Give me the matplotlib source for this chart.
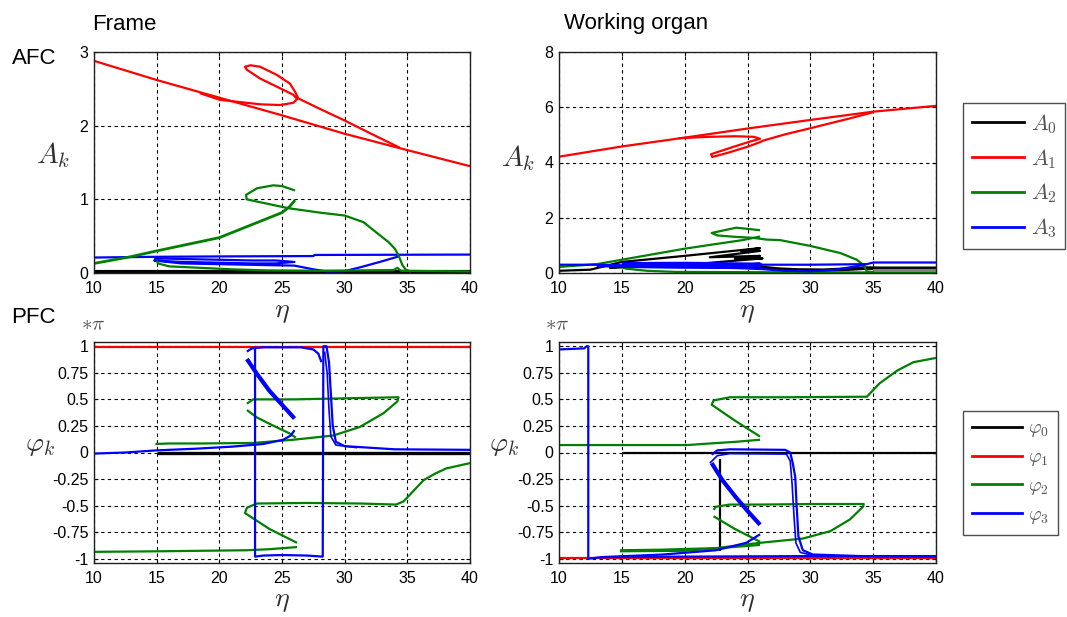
import matplotlib
matplotlib.use('Agg')
import matplotlib.pyplot as plt

W, H = 1067, 617

plt.rcParams['mathtext.fontset'] = 'cm'
plt.rcParams['font.family'] = ['Liberation Sans', 'DejaVu Sans']

BLACK, RED, GREEN, BLUE = '#000000', '#ff0000', '#008000', '#0000ff'

# ---------------- AFC, frame ----------------
fr_a0_x = [10, 40]
fr_a0_y = [0.012, 0.012]

fr_a1_x1 = [10, 15, 20, 25, 30, 34.5, 40]
fr_a1_y1 = [2.88, 2.62, 2.38, 2.14, 1.89, 1.69, 1.45]
fr_a1_x2 = [18.46, 20.06, 23.25, 24.84, 25.9, 26.2, 25.9, 24.58, 23.25, 22.19, 22.05,
            22.5, 23.25, 24.58, 25.64, 26.04, 26.3, 28, 30, 32, 34.4]
fr_a1_y2 = [2.44, 2.35, 2.29, 2.28, 2.31, 2.36, 2.42, 2.53, 2.64, 2.76, 2.80,
            2.82, 2.80, 2.69, 2.57, 2.46, 2.37, 2.23, 2.07, 1.90, 1.70]

fr_a2_x1 = [10, 12.9, 15, 17.5, 20, 22.5, 25, 25.6, 26.04]
fr_a2_y1 = [0.13, 0.22, 0.30, 0.39, 0.48, 0.65, 0.82, 0.90, 0.99]
fr_a2_x2 = [26.04, 25, 24.3, 23, 22.13, 22.18, 23, 25.5, 28, 30, 31.5, 32.6, 33.5,
            34.0, 34.3, 34.6, 34.9, 35.3]
fr_a2_y2 = [1.12, 1.18, 1.19, 1.15, 1.06, 1.00, 0.97, 0.88, 0.82, 0.78, 0.69, 0.54, 0.42,
            0.33, 0.24, 0.11, 0.04, 0.02]
fr_a2_x3 = [15, 15.1, 16, 18.5, 21, 23.8, 28, 33.9, 34.2, 34.5, 40]
fr_a2_y3 = [0.17, 0.13, 0.09, 0.07, 0.05, 0.035, 0.03, 0.04, 0.07, 0.03, 0.02]

fr_a3_x1 = [10, 15, 20, 27.5, 27.6, 40]
fr_a3_y1 = [0.21, 0.22, 0.225, 0.23, 0.245, 0.25]
fr_a3_x2 = [14.8, 17, 20, 22.5, 24.5, 26.0, 24.5, 22.5, 20, 17, 14.8, 17, 20, 23, 26,
            27.5, 28.6, 30, 31.3, 32.8, 34.4]
fr_a3_y2 = [0.20, 0.19, 0.18, 0.17, 0.17, 0.15, 0.13, 0.13, 0.14, 0.15, 0.17, 0.13, 0.12,
            0.11, 0.10, 0.05, 0.02, 0.025, 0.08, 0.15, 0.23]

# ---------------- AFC, working organ ----------------
wo_a0_x1 = [10, 12.5, 15, 20, 26.0, 24.5, 26.0, 22.0, 26.0, 24.0, 26.2, 21, 17, 14]
wo_a0_y1 = [0.08, 0.12, 0.40, 0.62, 0.90, 0.80, 0.80, 0.57, 0.62, 0.52, 0.53, 0.33, 0.25, 0.18]
wo_a0_x2 = [20, 24, 26.2, 27.5, 29, 31, 33, 34.5, 35.5, 40]
wo_a0_y2 = [0.25, 0.22, 0.20, 0.14, 0.11, 0.10, 0.14, 0.18, 0.17, 0.17]
wo_a0_x3 = [35, 40]
wo_a0_y3 = [0.11, 0.11]

wo_a1_x1 = [10, 15, 20, 25, 30, 35, 40]
wo_a1_y1 = [4.21, 4.58, 4.90, 5.23, 5.54, 5.84, 6.05]
wo_a1_x2 = [19.5, 22, 24, 25.5, 26.0, 25, 23.5, 22.1, 22.2, 23.5, 25, 25.9, 26.3, 28, 30, 33, 35]
wo_a1_y2 = [4.88, 4.93, 4.95, 4.93, 4.86, 4.73, 4.51, 4.30, 4.20, 4.36, 4.57, 4.72, 4.80,
            5.02, 5.24, 5.58, 5.82]

wo_a2_x1 = [10, 13, 15, 17.5, 20, 22.5, 24.6, 26.0]
wo_a2_y1 = [0.22, 0.32, 0.48, 0.68, 0.88, 1.05, 1.19, 1.32]
wo_a2_x2 = [26.0, 24.1, 22.15, 22.6, 24, 25.5, 26.5, 27.6, 30, 32.4, 33.7, 34.2, 34.5, 35]
wo_a2_y2 = [1.55, 1.64, 1.45, 1.36, 1.31, 1.27, 1.21, 1.19, 0.98, 0.72, 0.48, 0.30, 0.06, 0.03]
wo_a2_x3 = [15, 15.3, 17, 19.3, 25, 35, 40]
wo_a2_y3 = [0.22, 0.16, 0.08, 0.04, 0.03, 0.02, 0.02]

wo_a3_x1 = [10, 13, 15, 20, 25, 30, 34.5, 35, 40]
wo_a3_y1 = [0.30, 0.30, 0.28, 0.28, 0.30, 0.30, 0.32, 0.38, 0.38]
wo_a3_x2 = [13, 16, 20, 24, 26.2, 28, 30, 32, 34.4]
wo_a3_y2 = [0.25, 0.22, 0.20, 0.18, 0.14, 0.08, 0.06, 0.12, 0.30]
wo_a3_x3 = [15, 20, 26, 24, 20, 15]
wo_a3_y3 = [0.32, 0.33, 0.30, 0.25, 0.24, 0.26]

# ---------------- PFC, frame (units of pi) ----------------
fr_p0_x = [15, 40]
fr_p0_y = [0.0, 0.0]
fr_p1_x = [10, 40]
fr_p1_y = [0.99, 0.99]

fr_p2_x1 = [10, 15, 22.2, 24, 26.2]
fr_p2_y1 = [-0.935, -0.93, -0.92, -0.91, -0.89]
fr_p2_x2 = [26.2, 24, 22.05, 22.2, 23, 27, 31.2, 34.1, 34.7, 35.5, 36.3, 37.2, 38.1, 40]
fr_p2_y2 = [-0.85, -0.72, -0.57, -0.52, -0.48, -0.475, -0.48, -0.49, -0.46, -0.36, -0.26,
            -0.20, -0.15, -0.10]
fr_p2_x3 = [14.9, 16, 18.5, 22.7, 25.9, 29.1, 31.2, 33.1, 34.2, 34.3, 30, 26, 22.7, 22.2]
fr_p2_y3 = [0.08, 0.085, 0.085, 0.09, 0.12, 0.16, 0.24, 0.37, 0.48, 0.52, 0.51, 0.50, 0.50, 0.46]
fr_p2_x4 = [22.2, 23, 24, 25.6, 26.1]
fr_p2_y4 = [0.40, 0.33, 0.27, 0.18, 0.14]

fr_p3_x1 = [10, 12.5, 15, 18, 21, 23.5, 25.1, 25.7, 26.0]
fr_p3_y1 = [-0.01, 0.0, 0.02, 0.035, 0.055, 0.08, 0.12, 0.16, 0.21]
fr_p3_x2 = [22.85, 22.85, 23.5, 25, 27, 28.25, 28.3, 28.55, 28.75, 28.9, 29.05, 29.3, 30,
            34, 40]
fr_p3_y2 = [1.0, -0.98, -0.97, -0.965, -0.97, -0.98, 1.0, 1.0, 0.85, 0.55, 0.25, 0.10, 0.06,
            0.03, 0.025]
fr_p3_x3 = [22.2, 22.6, 23.5, 26.5, 27.5, 27.9, 28.15]
fr_p3_y3 = [0.95, 0.98, 0.99, 0.99, 0.97, 0.93, 0.85]
fr_p3_x4 = [28.4, 28.6, 28.75, 28.9, 29.3, 31]
fr_p3_y4 = [0.95, 0.75, 0.40, 0.15, 0.07, 0.045]
fr_p3_x5 = [22.2, 23, 24, 25, 26.0]
fr_p3_y5 = [0.88, 0.74, 0.58, 0.45, 0.32]

# ---------------- PFC, working organ (units of pi) ----------------
wo_p0_x1 = [15, 40]
wo_p0_y1 = [0.0, 0.0]
wo_p0_x2 = [22.8, 22.8]
wo_p0_y2 = [-0.06, -0.93]
wo_p1_x = [10, 40]
wo_p1_y = [-0.995, -0.995]

wo_p2_x1 = [10, 15, 20.2, 22, 24, 26]
wo_p2_y1 = [0.07, 0.07, 0.07, 0.085, 0.10, 0.12]
wo_p2_x2 = [26, 24, 22.15, 22.3, 23.6, 28, 34.5, 35.5, 36.9, 38.2, 40]
wo_p2_y2 = [0.15, 0.30, 0.45, 0.49, 0.52, 0.52, 0.525, 0.65, 0.77, 0.85, 0.89]
wo_p2_x3 = [14.85, 18, 22.5, 26, 29.4, 31.6, 33.15, 34.2, 34.25, 30, 26, 23.6, 22.5, 22.3]
wo_p2_y3 = [-0.92, -0.915, -0.90, -0.85, -0.81, -0.74, -0.63, -0.51, -0.485, -0.485, -0.49,
            -0.49, -0.51, -0.54]
wo_p2_x4 = [22.3, 24, 26]
wo_p2_y4 = [-0.60, -0.72, -0.84]
wo_p2_x5 = [14.85, 20, 26]
wo_p2_y5 = [-0.93, -0.925, -0.87]

wo_p3_x1 = [10, 12, 12.2, 12.33, 12.33, 13.3, 18.3, 22.5, 24.9, 26]
wo_p3_y1 = [0.97, 0.98, 1.0, 1.0, -1.0, -0.985, -0.96, -0.92, -0.85, -0.77]
wo_p3_x2 = [22.15, 22.6, 23.6, 28.0, 28.4, 28.6, 28.8, 28.9, 29.05, 29.4, 30.2, 34, 40]
wo_p3_y2 = [-0.02, 0.02, 0.03, 0.025, 0.0, -0.1, -0.23, -0.48, -0.79, -0.92, -0.96, -0.975, -0.98]
wo_p3_x3 = [22.0, 22.6, 23.6, 28.1, 28.4, 28.55, 28.7, 28.85, 29.2, 30.2, 32]
wo_p3_y3 = [-0.10, -0.03, -0.01, -0.015, -0.08, -0.3, -0.6, -0.85, -0.94, -0.97, -0.98]
wo_p3_x4 = [22.15, 23, 24, 25, 26]
wo_p3_y4 = [-0.10, -0.26, -0.41, -0.55, -0.68]
wo_p3_x5 = [13.3, 20, 30, 40]
wo_p3_y5 = [-0.985, -0.98, -0.975, -0.975]

x_ticks = [10, 15, 20, 25, 30, 35, 40]
pfc_ticks = [-1, -0.75, -0.5, -0.25, 0, 0.25, 0.5, 0.75, 1]
pfc_labels = ['-1', '-0.75', '-0.5', '-0.25', '0', '0.25', '0.5', '0.75', '1']

LW = 1.6

fig = plt.figure(figsize=(W / 100, H / 100), dpi=100)


def add_ax(x0, y0, x1, y1):
    return fig.add_axes([x0 / W, 1 - y1 / H, (x1 - x0) / W, (y1 - y0) / H])


def style(ax, ylim, yticks, ylabels=None):
    ax.set_xlim(10, 40)
    ax.set_ylim(*ylim)
    ax.set_xticks(x_ticks)
    ax.set_yticks(yticks)
    if ylabels is not None:
        ax.set_yticklabels(ylabels)
    ax.grid(True, color='black', linestyle=(0, (3, 3)), linewidth=0.8)
    ax.tick_params(direction='in', length=3, top=True, right=True, labelsize=11.5,
                   pad=4)
    ax.tick_params(axis='x', pad=6)
    for s in ax.spines.values():
        s.set_linewidth(1.0)
        s.set_color('#202020')


def draw(ax, segs):
    for xs, ys, c, lw in segs:
        ax.plot(xs, ys, color=c, lw=lw, solid_capstyle='butt', solid_joinstyle='round')


ax1 = add_ax(94, 52, 470, 273)
ax2 = add_ax(559, 52, 936, 273)
ax3 = add_ax(94, 342, 470, 563)
ax4 = add_ax(559, 342, 936, 563)

draw(ax1, [
    (fr_a0_x, fr_a0_y, BLACK, 3.0),
    (fr_a3_x1, fr_a3_y1, BLUE, LW), (fr_a3_x2, fr_a3_y2, BLUE, LW),
    (fr_a2_x1, fr_a2_y1, GREEN, LW + 0.4), (fr_a2_x2, fr_a2_y2, GREEN, LW),
    (fr_a2_x3, fr_a2_y3, GREEN, LW),
    (fr_a1_x1, fr_a1_y1, RED, LW), (fr_a1_x2, fr_a1_y2, RED, LW),
])
draw(ax2, [
    (wo_a0_x1, wo_a0_y1, BLACK, LW), (wo_a0_x2, wo_a0_y2, BLACK, LW + 1),
    (wo_a0_x3, wo_a0_y3, '#808080', LW),
    (wo_a2_x1, wo_a2_y1, GREEN, LW), (wo_a2_x2, wo_a2_y2, GREEN, LW),
    (wo_a2_x3, wo_a2_y3, GREEN, LW),
    (wo_a3_x1, wo_a3_y1, BLUE, LW), (wo_a3_x2, wo_a3_y2, BLUE, LW),
    (wo_a3_x3, wo_a3_y3, BLUE, LW + 1.5),
    (wo_a1_x1, wo_a1_y1, RED, LW), (wo_a1_x2, wo_a1_y2, RED, LW),
])
draw(ax3, [
    (fr_p0_x, fr_p0_y, BLACK, LW + 0.8),
    (fr_p1_x, fr_p1_y, RED, LW),
    (fr_p2_x1, fr_p2_y1, GREEN, LW), (fr_p2_x2, fr_p2_y2, GREEN, LW),
    (fr_p2_x3, fr_p2_y3, GREEN, LW), (fr_p2_x4, fr_p2_y4, GREEN, LW),
    (fr_p3_x1, fr_p3_y1, BLUE, LW), (fr_p3_x2, fr_p3_y2, BLUE, LW),
    (fr_p3_x3, fr_p3_y3, BLUE, LW), (fr_p3_x4, fr_p3_y4, BLUE, LW - 0.4),
    (fr_p3_x5, fr_p3_y5, BLUE, LW + 1.4),
])
draw(ax4, [
    (wo_p0_x1, wo_p0_y1, BLACK, LW), (wo_p0_x2, wo_p0_y2, BLACK, LW),
    (wo_p1_x, wo_p1_y, RED, LW),
    (wo_p2_x1, wo_p2_y1, GREEN, LW), (wo_p2_x2, wo_p2_y2, GREEN, LW),
    (wo_p2_x3, wo_p2_y3, GREEN, LW), (wo_p2_x4, wo_p2_y4, GREEN, LW),
    (wo_p2_x5, wo_p2_y5, GREEN, LW),
    (wo_p3_x1, wo_p3_y1, BLUE, LW), (wo_p3_x2, wo_p3_y2, BLUE, LW),
    (wo_p3_x3, wo_p3_y3, BLUE, LW - 0.4), (wo_p3_x4, wo_p3_y4, BLUE, LW + 1.4),
    (wo_p3_x5, wo_p3_y5, BLUE, LW),
])

style(ax1, (0, 3), [0, 1, 2, 3])
style(ax2, (0, 8), [0, 2, 4, 6, 8])
style(ax3, (-1.04, 1.04), pfc_ticks, pfc_labels)
style(ax4, (-1.04, 1.04), pfc_ticks, pfc_labels)


def ftext(x, y, s, **kw):
    fig.text(x / W, 1 - y / H, s, **kw)


ftext(92, 24, 'Frame', fontsize=16, va='center', ha='left')
ftext(564, 24, 'Working organ', fontsize=16, va='center', ha='left')
ftext(12, 58, 'AFC', fontsize=16, va='center', ha='left')
ftext(11, 318, 'PFC', fontsize=16, va='center', ha='left')

MC = '#303030'
ftext(53, 155, r'$A_k$', fontsize=21, va='center', ha='center', color=MC)
ftext(518, 158, r'$A_k$', fontsize=21, va='center', ha='center', color=MC)
ftext(40, 445, r'$\varphi_k$', fontsize=20, va='center', ha='center', color=MC)
ftext(504, 445, r'$\varphi_k$', fontsize=20, va='center', ha='center', color=MC)
ftext(93, 325, r'$\ast\pi$', fontsize=15, va='center', ha='center', color='#505050')
ftext(557, 325, r'$\ast\pi$', fontsize=15, va='center', ha='center', color='#505050')
for xc in (282, 747):
    ftext(xc, 312, r'$\eta$', fontsize=20, va='center', ha='center', color=MC)
    ftext(xc, 601, r'$\eta$', fontsize=20, va='center', ha='center', color=MC)

# legends
leg_colors = [BLACK, RED, GREEN, BLUE]
a_handles = [plt.Line2D([], [], color=c, lw=2.0) for c in leg_colors]
p_handles = [plt.Line2D([], [], color=c, lw=2.0) for c in leg_colors]
a_labels = [r'$A_0$', r'$A_1$', r'$A_2$', r'$A_3$']
p_labels = [r'$\varphi_0$', r'$\varphi_1$', r'$\varphi_2$', r'$\varphi_3$']

leg1 = fig.legend(a_handles, a_labels, loc='upper left', bbox_to_anchor=(963 / W, 1 - 103 / H),
                  fontsize=16, frameon=True, fancybox=False, borderaxespad=0,
                  handlelength=2.35, handletextpad=0.3, labelspacing=0.5, borderpad=0.4,
                  labelcolor='#555555')
leg2 = fig.legend(p_handles, p_labels, loc='upper left', bbox_to_anchor=(963 / W, 1 - 411 / H),
                  fontsize=14, frameon=True, fancybox=False, borderaxespad=0,
                  handlelength=2.6, handletextpad=0.3, labelspacing=0.48, borderpad=0.45,
                  labelcolor='#555555')
for lg in (leg1, leg2):
    fr = lg.get_frame()
    fr.set_edgecolor('#202020')
    fr.set_linewidth(1.0)

fig.savefig('out.png', dpi=100)
